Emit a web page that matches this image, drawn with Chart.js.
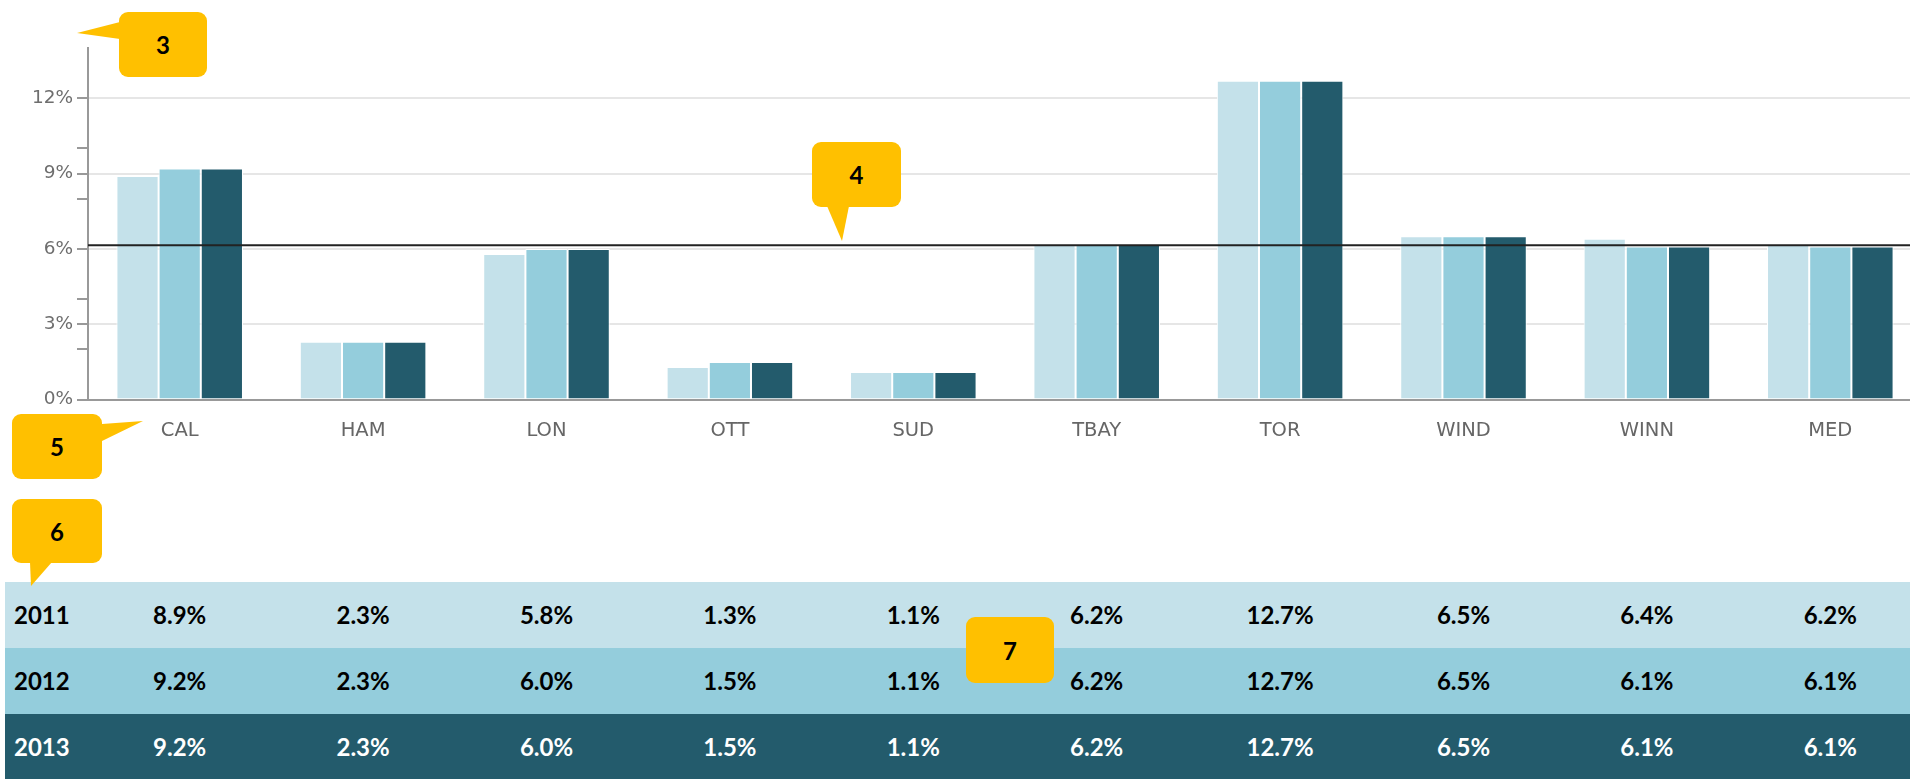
<!DOCTYPE html>
<html>
<head>
<meta charset="utf-8">
<script src="https://cdn.jsdelivr.net/npm/chart.js@4.4.1/dist/chart.umd.min.js"></script>
<style>
  html, body { margin: 0; padding: 0; background: #fff; overflow: hidden; width: 1910px; height: 779px; }
  #wrap { position: absolute; left: 0; top: 0; width: 1922px; height: 465px; }
  #rateTable { position: absolute; left: 5px; top: 582px; width: 1917px; }
  .row { position: relative; height: 66px; font-family: Lato, "Open Sans", sans-serif; font-weight: bold; font-size: 24px; }
  .row span { position: absolute; top: 0; line-height: 66px; white-space: nowrap; }
  .callout { position: absolute; background: #FFC000; border-radius: 9px; font-family: Lato, sans-serif; font-weight: bold; font-size: 24px; color: #000; display: flex; align-items: center; justify-content: center; }
  #pointers { position: absolute; left: 0; top: 0; }
</style>
</head>
<body>
<div id="wrap"><canvas id="rate-chart" width="1922" height="465"></canvas></div>
<div id="rateTable"></div>

<svg id="pointers" width="1910" height="779">
  <polygon points="120,22 77,33 120,39" fill="#FFC000"/>
  <polygon points="827,206 842,241 849,206" fill="#FFC000"/>
  <polygon points="102,424 143,421 102,441" fill="#FFC000"/>
  <polygon points="30,562 31,586 52,562" fill="#FFC000"/>
</svg>
<div class="callout" style="left:119px;top:12px;width:88px;height:65px;">3</div>
<div class="callout" style="left:812px;top:142px;width:89px;height:65px;">4</div>
<div class="callout" style="left:12px;top:414px;width:90px;height:65px;">5</div>
<div class="callout" style="left:12px;top:499px;width:90px;height:64px;">6</div>
<div class="callout" style="left:966px;top:617px;width:88px;height:66px;">7</div>

<script>
const categories = ['CAL', 'HAM', 'LON', 'OTT', 'SUD', 'TBAY', 'TOR', 'WIND', 'WINN', 'MED'];
const years = ['2011', '2012', '2013'];
const rate2011 = [8.9, 2.3, 5.8, 1.3, 1.1, 6.2, 12.7, 6.5, 6.4, 6.2];
const rate2012 = [9.2, 2.3, 6.0, 1.5, 1.1, 6.2, 12.7, 6.5, 6.1, 6.1];
const rate2013 = [9.2, 2.3, 6.0, 1.5, 1.1, 6.2, 12.7, 6.5, 6.1, 6.1];
const benchmark = 6.15;   // black reference line
const yMax = 14;
const yLabelTicks = [0, 3, 6, 9, 12];
const yMinorTicks = [2, 4, 8, 10];

const colors = ['#C4E1EA', '#94CDDC', '#235B6C'];
const textColors = ['#000', '#000', '#fff'];

// black horizontal line across the plot
const benchmarkLine = {
    id: 'benchmarkLine',
    afterDatasetsDraw(chart) {
        const y = chart.scales.y.getPixelForValue(benchmark);
        const c = chart.ctx;
        c.save();
        c.strokeStyle = '#222';
        c.lineWidth = 2;
        c.beginPath();
        c.moveTo(chart.chartArea.left, y);
        c.lineTo(chart.chartArea.right, y);
        c.stroke();
        c.restore();
    }
};

const ctx = document.getElementById('rate-chart').getContext('2d');

const rateChart = new Chart(ctx, {
    type: 'bar',
    data: {
        labels: categories,
        datasets: [rate2011, rate2012, rate2013].map((d, i) => ({
            label: years[i],
            data: d,
            backgroundColor: colors[i],
            borderColor: '#fff',
            borderWidth: 1,
            categoryPercentage: 0.69,
            barPercentage: 1
        }))
    },
    options: {
        responsive: false,
        animation: false,
        layout: { padding: { top: 48, right: 0, left: 0, bottom: 10 } },
        plugins: {
            legend: { display: false },
            tooltip: { enabled: false }
        },
        scales: {
            x: {
                grid: { display: false },
                border: { color: '#999', width: 2 },
                ticks: {
                    color: '#666',
                    padding: 12,
                    font: { family: 'DejaVu Sans', size: 19.5 }
                }
            },
            y: {
                min: 0,
                max: yMax,
                afterFit(scale) { scale.width = 88; },
                afterBuildTicks(scale) {
                    scale.ticks = yLabelTicks.concat(yMinorTicks)
                        .sort((a, b) => a - b)
                        .map(v => ({ value: v }));
                },
                border: { color: '#999', width: 2 },
                grid: {
                    tickLength: 11,
                    lineWidth: 2,
                    color: c => (c.tick && yLabelTicks.includes(c.tick.value) && c.tick.value > 0) ? '#e6e6e6' : 'rgba(0,0,0,0)',
                    tickColor: '#999'
                },
                ticks: {
                    autoSkip: false,
                    padding: 4,
                    color: '#6e6e6e',
                    font: { family: 'DejaVu Sans', size: 18.5 },
                    callback: v => yLabelTicks.includes(v) ? v + '%' : ''
                }
            }
        }
    },
    plugins: [benchmarkLine]
});

// table under the chart, columns centred on the chart's categories
const table = document.getElementById('rateTable');
const xScale = rateChart.scales.x;
[rate2011, rate2012, rate2013].forEach((d, i) => {
    const row = document.createElement('div');
    row.className = 'row';
    row.style.background = colors[i];
    row.style.color = textColors[i];
    const lab = document.createElement('span');
    lab.textContent = years[i];
    lab.style.left = '9px';
    row.appendChild(lab);
    d.forEach((v, j) => {
        const s = document.createElement('span');
        s.textContent = v.toFixed(1) + '%';
        s.style.left = (xScale.getPixelForValue(j) - 5) + 'px';
        s.style.transform = 'translateX(-50%)';
        row.appendChild(s);
    });
    table.appendChild(row);
});
</script>
</body>
</html>
